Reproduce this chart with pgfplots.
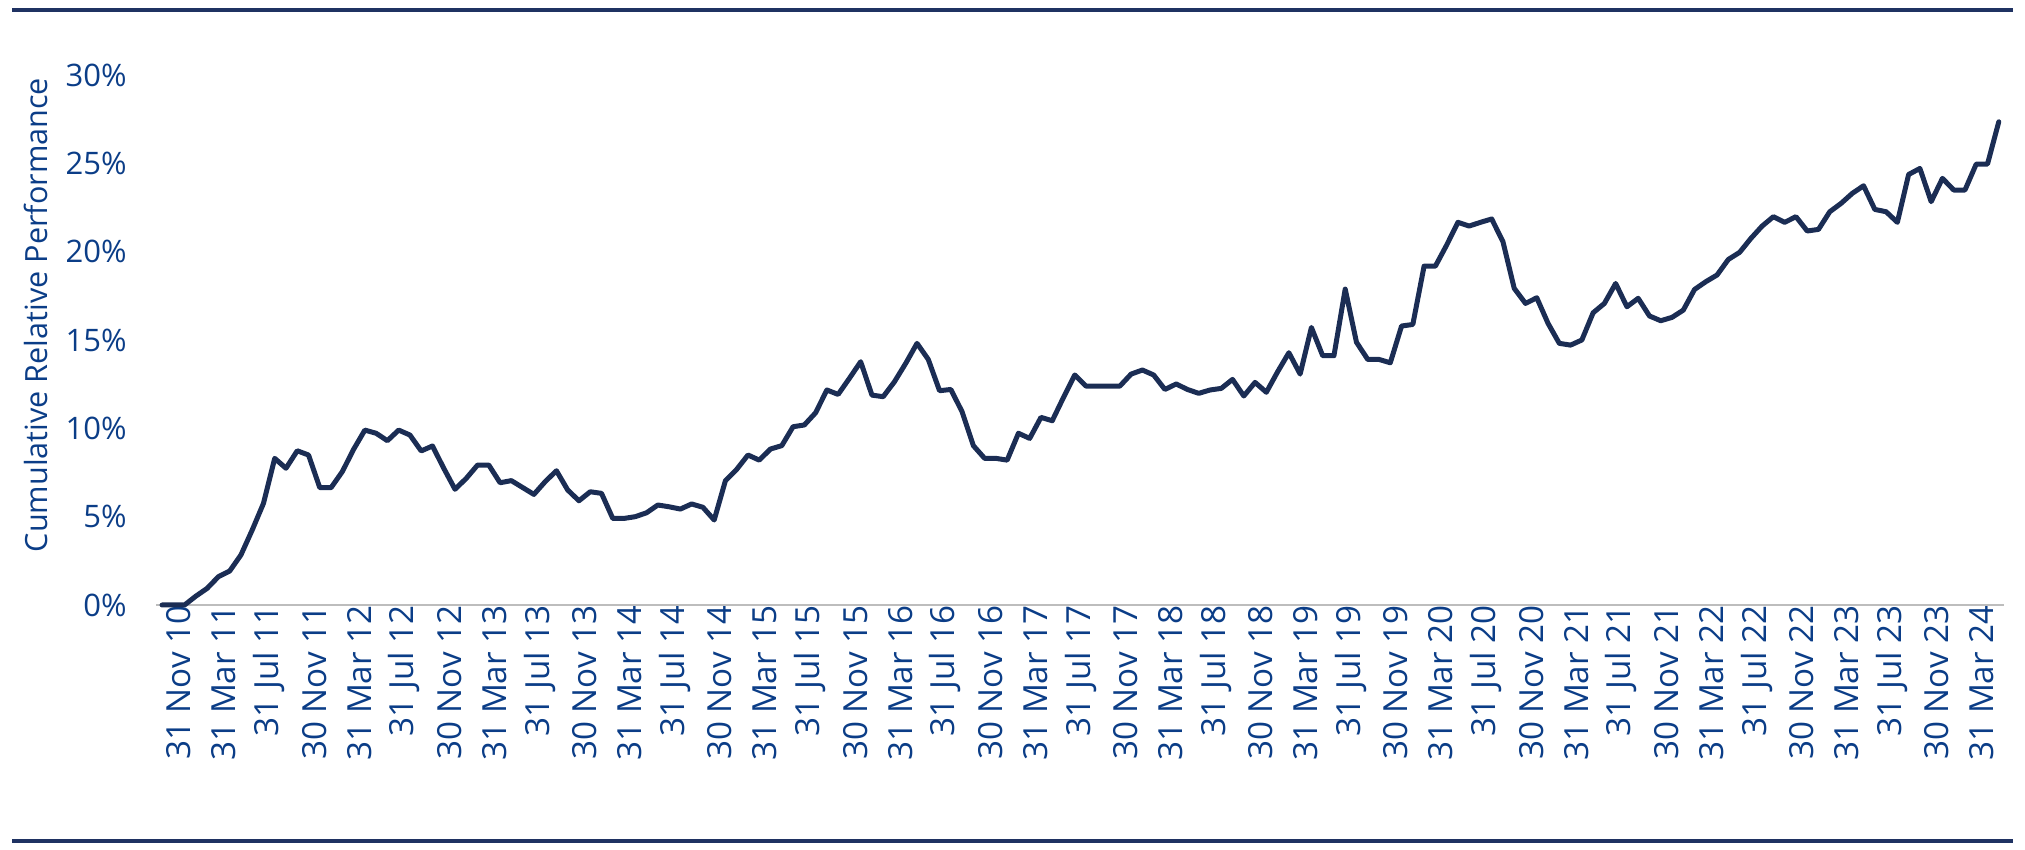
\documentclass[border=0pt]{standalone}
\usepackage{pgfplots}
\pgfplotsset{compat=1.18}
\usepackage{fontspec}
\setmainfont{Open Sans}
\definecolor{navyline}{HTML}{1B2D54}
\definecolor{labelblue}{HTML}{0B3D87}
\definecolor{rulecol}{HTML}{1F3262}
\definecolor{basegray}{HTML}{BDBDBD}
\begin{document}
\begin{tikzpicture}
\useasboundingbox (0,0) rectangle (1012.5bp,425bp);
\draw[rulecol, line width=2bp] (6bp,420bp) -- (1006.5bp,420bp);
\draw[rulecol, line width=2bp] (6bp,4.5bp) -- (1006.5bp,4.5bp);
\begin{axis}[
  at={(78.2bp,122.5bp)}, anchor=south west,
  width=924bp, height=265bp, scale only axis,
  xmin=-0.5, xmax=163.5, ymin=0, ymax=30,
  axis line style={draw=none},
  major tick length=0pt,
  ytick={0,5,10,15,20,25,30},
  yticklabels={0\%,5\%,10\%,15\%,20\%,25\%,30\%},
  xtick={0,4,...,160},
  xticklabels={31 Nov 10,31 Mar 11,31 Jul 11,30 Nov 11,31 Mar 12,31 Jul 12,30 Nov 12,31 Mar 13,31 Jul 13,30 Nov 13,31 Mar 14,31 Jul 14,30 Nov 14,31 Mar 15,31 Jul 15,30 Nov 15,31 Mar 16,31 Jul 16,30 Nov 16,31 Mar 17,31 Jul 17,30 Nov 17,31 Mar 18,31 Jul 18,30 Nov 18,31 Mar 19,31 Jul 19,30 Nov 19,31 Mar 20,31 Jul 20,30 Nov 20,31 Mar 21,31 Jul 21,30 Nov 21,31 Mar 22,31 Jul 22,30 Nov 22,31 Mar 23,31 Jul 23,30 Nov 23,31 Mar 24},
  tick label style={text=labelblue},
  yticklabel style={font=\fontsize{15.5bp}{18bp}\selectfont, anchor=east, inner sep=0pt, xshift=-14.7bp},
  xticklabel style={font=\fontsize{16.6bp}{19bp}\selectfont, rotate=90, anchor=east, inner sep=0pt, yshift=-8.5bp},
  ylabel={Cumulative Relative Performance},
  every axis y label/.style={at={(axis description cs:0,0.547)}, xshift=-60.2bp, anchor=center, rotate=90, font=\fontsize{15.3bp}{18bp}\selectfont, text=labelblue},
  clip=false,
]
\draw[basegray, line width=0.75bp] (axis cs:-0.5,0) -- (axis cs:163.5,0);
\addplot[navyline, line width=2.5bp, line join=round, line cap=round, mark=none] table {
0 0
1 0
2 0
3 0.5
4 0.94
5 1.6
6 1.92
7 2.83
8 4.24
9 5.75
10 8.3
11 7.74
12 8.73
13 8.49
14 6.64
15 6.64
16 7.55
17 8.81
18 9.9
19 9.72
20 9.3
21 9.9
22 9.62
23 8.72
24 9.0
25 7.74
26 6.55
27 7.17
28 7.92
29 7.92
30 6.92
31 7.04
32 6.65
33 6.26
34 6.98
35 7.6
36 6.51
37 5.9
38 6.41
39 6.32
40 4.9
41 4.9
42 5.0
43 5.22
44 5.66
45 5.56
46 5.43
47 5.72
48 5.53
49 4.81
50 7.04
51 7.68
52 8.49
53 8.2
54 8.83
55 9.02
56 10.09
57 10.19
58 10.88
59 12.17
60 11.92
61 12.83
62 13.77
63 11.88
64 11.79
65 12.64
66 13.68
67 14.81
68 13.9
69 12.13
70 12.2
71 10.94
72 9.02
73 8.3
74 8.3
75 8.2
76 9.72
77 9.43
78 10.62
79 10.43
80 11.75
81 13.02
82 12.39
83 12.39
84 12.39
85 12.39
86 13.07
87 13.3
88 13.02
89 12.2
90 12.51
91 12.2
92 11.98
93 12.17
94 12.26
95 12.77
96 11.83
97 12.6
98 12.04
99 13.2
100 14.28
101 13.07
102 15.71
103 14.11
104 14.11
105 17.88
106 14.87
107 13.9
108 13.9
109 13.71
110 15.79
111 15.88
112 19.18
113 19.18
114 20.37
115 21.66
116 21.45
117 21.66
118 21.85
119 20.56
120 17.92
121 17.07
122 17.39
123 15.94
124 14.81
125 14.71
126 15.0
127 16.54
128 17.07
129 18.2
130 16.88
131 17.36
132 16.36
133 16.09
134 16.28
135 16.69
136 17.86
137 18.3
138 18.68
139 19.56
140 19.96
141 20.75
142 21.45
143 21.98
144 21.66
145 21.98
146 21.17
147 21.26
148 22.26
149 22.73
150 23.3
151 23.73
152 22.39
153 22.26
154 21.66
155 24.37
156 24.71
157 22.83
158 24.15
159 23.49
160 23.49
161 24.96
162 24.96
163 27.35
};
\end{axis}
\end{tikzpicture}
\end{document}
